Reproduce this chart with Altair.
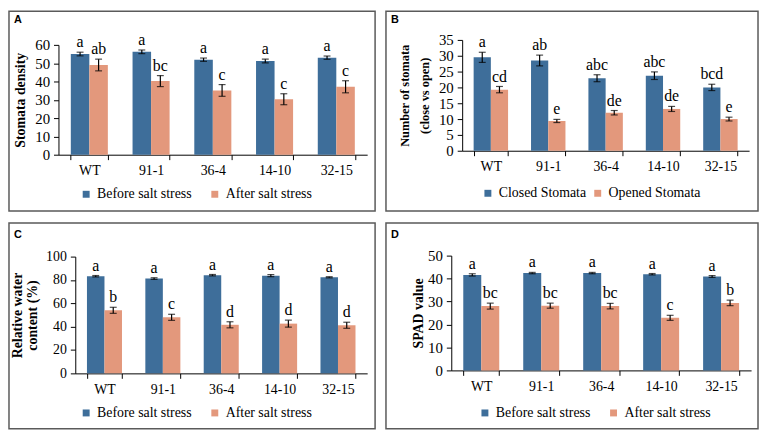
import altair as alt
import pandas as pd

SERIF = "Liberation Serif"
BLUE = "#3E6E9A"
ORANGE = "#E3987C"

cats = ["WT", "91-1", "36-4", "14-10", "32-15"]

# Panel A
a_series = ["Before salt stress", "After salt stress"]
a_before = [55.0, 56.2, 51.9, 51.2, 53.0]
a_before_err = [1.0, 1.0, 0.9, 1.0, 0.9]
a_after = [49.0, 40.2, 35.1, 30.3, 37.1]
a_after_err = [3.2, 3.0, 3.2, 3.0, 3.3]
a_before_letters = ["a", "a", "a", "a", "a"]
a_after_letters = ["ab", "bc", "c", "c", "c"]

# Panel B
b_series = ["Closed Stomata", "Opened Stomata"]
b_closed = [29.5, 28.5, 22.9, 23.7, 20.0]
b_closed_err = [1.6, 1.7, 1.1, 1.2, 1.0]
b_opened = [19.3, 9.4, 12.0, 13.2, 10.0]
b_opened_err = [1.0, 0.5, 0.7, 0.8, 0.6]
b_closed_letters = ["a", "ab", "abc", "abc", "bcd"]
b_opened_letters = ["cd", "e", "de", "de", "e"]

# Panel C
c_series = ["Before salt stress", "After salt stress"]
c_before = [83.2, 81.2, 84.1, 83.7, 82.3]
c_before_err = [0.6, 0.7, 0.6, 0.9, 0.5]
c_after = [54.0, 48.0, 41.6, 42.6, 41.2]
c_after_err = [2.6, 2.6, 2.6, 3.0, 2.6]
c_before_letters = ["a", "a", "a", "a", "a"]
c_after_letters = ["b", "c", "d", "d", "d"]

# Panel D
d_series = ["Before salt stress", "After salt stress"]
d_before = [41.6, 42.4, 42.4, 41.9, 40.9]
d_before_err = [0.5, 0.3, 0.3, 0.3, 0.4]
d_after = [28.0, 28.2, 28.0, 22.9, 29.4]
d_after_err = [1.3, 1.1, 1.2, 1.1, 1.2]
d_before_letters = ["a", "a", "a", "a", "a"]
d_after_letters = ["bc", "bc", "bc", "c", "b"]


def panel(label, series, v1, e1, v2, e2, l1, l2, ytitle, title_size, title_lh,
          ymax, ystep, ylab_size, W, H, ax_l, ax_r, y0, ytop, title_cx,
          leg_x, leg_y, col_pad, label_y):
    rows = []
    for s, vals, errs, lets in ((series[0], v1, e1, l1), (series[1], v2, e2, l2)):
        for c, v, e, t in zip(cats, vals, errs, lets):
            rows.append(dict(cat=c, series=s, value=v, lo=v - e, hi=v + e, letter=t))
    df = pd.DataFrame(rows)

    xaxis = alt.Axis(title=None, orient="bottom", offset=-(H - y0), labelAngle=0,
                     labelFont=SERIF, labelFontSize=14, labelColor="black",
                     tickBand="extent", tickSize=5, tickColor="black",
                     domainColor="black", labelPadding=4, grid=False)
    xenc = alt.X("cat:N", sort=cats,
                 scale=alt.Scale(range=[ax_l, ax_r], paddingInner=0.4, paddingOuter=0.2),
                 axis=xaxis)
    xoff = alt.XOffset("series:N", sort=series, scale=alt.Scale(domain=series))
    yscale = alt.Scale(domain=[0, ymax], range=[y0, ytop], nice=False)
    yaxis = alt.Axis(title=ytitle, values=list(range(0, ymax + 1, ystep)),
                     offset=-ax_l, labelFont=SERIF, labelFontSize=ylab_size,
                     labelColor="black",
                     tickSize=5, tickColor="black", domainColor="black",
                     labelPadding=4, grid=False,
                     titleFont=SERIF, titleFontSize=title_size, titleFontWeight="bold",
                     titleColor="black", titleAngle=270,
                     titleX=title_cx - ax_l, titleY=(y0 + ytop) / 2,
                     titleAlign="center", titleBaseline="middle",
                     titleLineHeight=title_lh)

    base = alt.Chart(df)
    bars = base.mark_bar().encode(
        x=xenc, xOffset=xoff,
        y=alt.Y("value:Q", scale=yscale, axis=yaxis),
        color=alt.Color("series:N",
                        scale=alt.Scale(domain=series, range=[BLUE, ORANGE]),
                        legend=alt.Legend(orient="none", legendX=leg_x, legendY=leg_y,
                                          direction="horizontal", title=None,
                                          symbolType="square", symbolSize=49,
                                          symbolStrokeWidth=0, symbolOpacity=1,
                                          labelFont=SERIF, labelFontSize=14,
                                          labelColor="black", columnPadding=col_pad,
                                          labelOffset=4, padding=0)),
    )
    rules = base.mark_rule(color="black", strokeWidth=1.2).encode(
        x=xenc, xOffset=xoff,
        y=alt.Y("lo:Q", scale=yscale, axis=yaxis), y2="hi:Q")
    cap_hi = base.mark_tick(color="black", thickness=1.2, size=7).encode(
        x=xenc, xOffset=xoff, y=alt.Y("hi:Q", scale=yscale, axis=yaxis))
    cap_lo = base.mark_tick(color="black", thickness=1.2, size=7).encode(
        x=xenc, xOffset=xoff, y=alt.Y("lo:Q", scale=yscale, axis=yaxis))
    letters = base.mark_text(font=SERIF, fontSize=16, baseline="alphabetic",
                             dy=-5, color="black").encode(
        x=xenc, xOffset=xoff, y=alt.Y("hi:Q", scale=yscale, axis=yaxis),
        text="letter:N")
    lbl = alt.Chart(pd.DataFrame({"t": [label]})).mark_text(
        font="Liberation Sans", fontWeight="bold", fontSize=11,
        align="left", baseline="alphabetic", color="black").encode(
        x=alt.value(5), y=alt.value(label_y), text="t:N")
    return alt.layer(bars, rules, cap_hi, cap_lo, letters, lbl).properties(width=W, height=H)


# title_cx is the centre of the first title line (further lines stack to the right)
pA = panel("A", a_series, a_before, a_before_err, a_after, a_after_err,
           a_before_letters, a_after_letters, "Stomata density", 14, 18,
           60, 10, 15, 370, 202, 50, 362, 145, 34, 12, 71, 178, 16, 12)
pB = panel("B", b_series, b_closed, b_closed_err, b_opened, b_opened_err,
           b_closed_letters, b_opened_letters,
           ["Number of stomata", "(close vs open)"], 12.5, 20,
           35, 5, 15, 376, 202, 77, 367, 141, 29, 19, 96, 177, 4, 12)
pC = panel("C", c_series, c_before, c_before_err, c_after, c_after_err,
           c_before_letters, c_after_letters,
           ["Relative water", "content (%)"], 14, 15,
           100, 20, 14, 370, 208, 67, 362, 152, 34, 9, 71, 185, 16, 15)
pD = panel("D", d_series, d_before, d_before_err, d_after, d_after_err,
           d_before_letters, d_after_letters, "SPAD value", 14, 18,
           50, 10, 15, 376, 208, 66, 369, 149, 33, 33, 93, 185, 16, 15)

chart = alt.concat(pA, pB, pC, pD, columns=2, spacing={"row": 10, "column": 9}).resolve_scale(
    x="independent", y="independent", color="independent", xOffset="independent"
).resolve_axis(x="independent", y="independent").resolve_legend(
    color="independent"
).configure_view(stroke="#5a5a5a", strokeWidth=1.5).properties(
    padding=0, background="white")

chart.save("out.html", embed_options={"renderer": "svg", "actions": False})
